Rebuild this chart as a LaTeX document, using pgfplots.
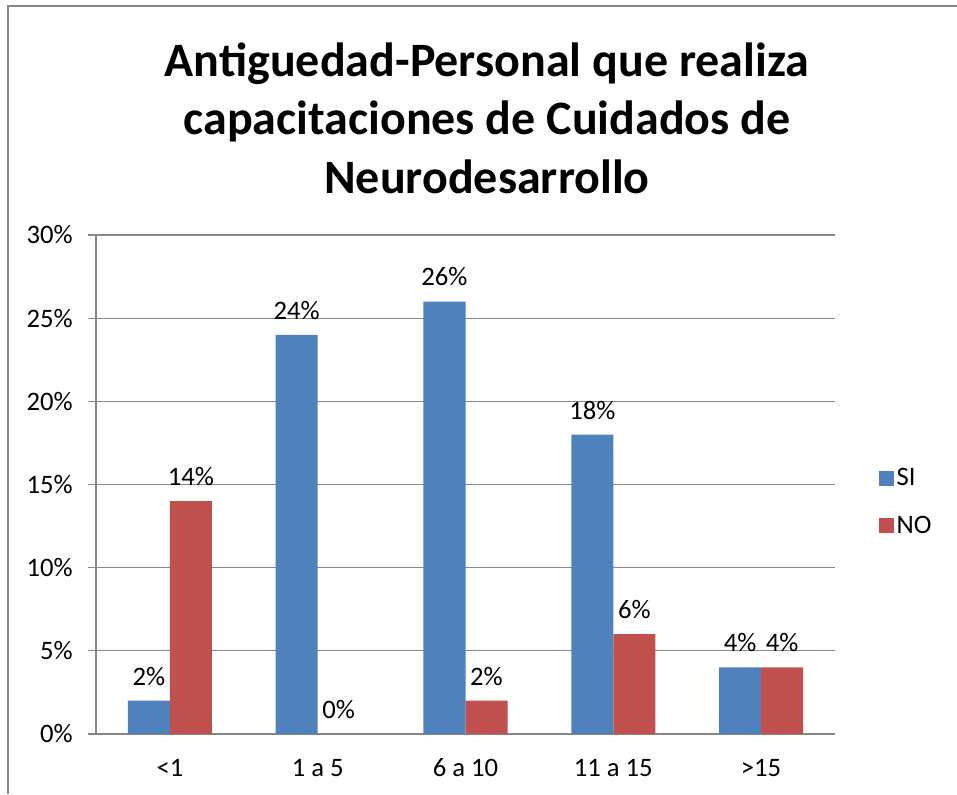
\documentclass[border=0pt]{standalone}
\usepackage{pgfplots}
\pgfplotsset{compat=1.18}
\usepackage{fontspec}
\setmainfont{Carlito}
\definecolor{siblue}{HTML}{4F81BD}
\definecolor{nored}{HTML}{C0504D}
\definecolor{gridgray}{HTML}{868686}
\begin{document}
\begin{tikzpicture}
\useasboundingbox (0,0) rectangle (717.75pt,-595.5pt);
\draw[gridgray, line width=0.9pt] (6pt,-595.5pt) -- (6pt,-4.5pt) -- (717.75pt,-4.5pt);
\node[font=\bfseries\fontsize{36}{43.9}\selectfont, align=center] at (365.25pt,-88.5pt) {Antiguedad-Personal que realiza\\capacitaciones de Cuidados de\\Neurodesarrollo};
\begin{axis}[
  at={(72pt,-550.5pt)}, anchor=south west,
  scale only axis, width=554.25pt, height=374.25pt,
  ymin=0, ymax=30, ytick={0,5,...,30},
  xmin=-0.5, xmax=4.5, xtick={0,...,4},
  xticklabels={<1,1 a 5,6 a 10,11 a 15,>15},
  extra x ticks={-0.5,0.5,...,4.5}, extra x tick labels={},
  extra x tick style={major tick length=6pt, tick style={gridgray, line width=0.9pt}},
  major x tick style={draw=none},
  tick align=outside, major tick length=6pt,
  axis x line*=bottom, axis y line*=left,
  ymajorgrids, grid style={gridgray, line width=0.9pt},
  axis line style={gridgray, line width=0.9pt},
  tick style={gridgray, line width=0.9pt},
  ybar=0pt, bar width=31.5pt,
  /pgf/number format/assume math mode=true,
  yticklabel={\pgfmathprintnumber{\tick}\%},
  ticklabel style={font=\fontsize{20}{22}\selectfont},
  yticklabel style={xshift=-8pt},
  xticklabel style={yshift=-8pt, text height=14pt, text depth=4pt},
  nodes near coords={\pgfmathprintnumber{\pgfplotspointmeta}\%},
  every node near coord/.append style={font=\fontsize{20}{22}\selectfont, text=black, yshift=8pt},
  legend style={draw=none, at={(1.059,0.465)}, anchor=west, font=\fontsize{20}{22}\selectfont, row sep=17pt, inner sep=0pt},
  legend cell align=left,
]
\addplot[fill=siblue, draw=none, legend image code/.code={\fill[siblue] (0pt,-5.6pt) rectangle (11.25pt,5.6pt);}] coordinates {(0,2) (1,24) (2,26) (3,18) (4,4)};
\addplot[fill=nored, draw=none, legend image code/.code={\fill[nored] (0pt,-5.6pt) rectangle (11.25pt,5.6pt);}] coordinates {(0,14) (1,0) (2,2) (3,6) (4,4)};
\legend{SI,NO}
\end{axis}
\end{tikzpicture}
\end{document}
